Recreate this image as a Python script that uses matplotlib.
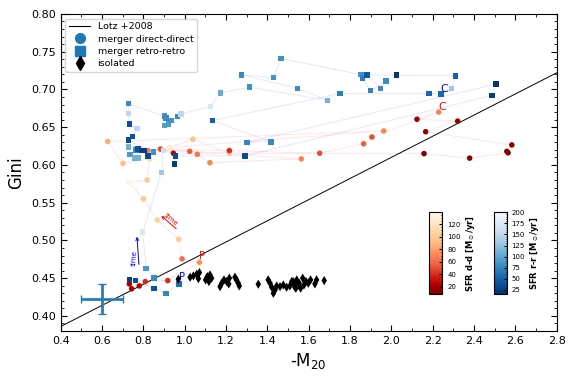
import numpy as np
import matplotlib
matplotlib.use("Agg")
import matplotlib.pyplot as plt
from matplotlib.lines import Line2D

# ---------------- data ----------------
# merger direct-direct track (-M20, Gini, SFR), in time order
dd_m20 = [0.743, 0.732, 0.780, 0.809, 0.918, 1.071, 0.987, 0.971, 0.867, 0.800,
          0.729, 0.818, 0.829, 0.701, 0.627, 1.963, 0.925, 1.040, 1.216, 0.821,
          1.024, 1.061, 1.122, 1.564, 0.882, 1.216, 1.653, 1.866, 1.906, 2.229,
          2.124, 2.321, 2.166, 2.583, 2.559, 2.565, 2.379, 2.158, 0.945]
dd_gini = [0.436, 0.4424, 0.4397, 0.4455, 0.4468, 0.471, 0.4755, 0.5016, 0.527, 0.555,
           0.577, 0.580, 0.608, 0.602, 0.631, 0.645, 0.623, 0.634, 0.6155, 0.619,
           0.618, 0.614, 0.603, 0.608, 0.621, 0.619, 0.6155, 0.628, 0.637, 0.670,
           0.6605, 0.658, 0.644, 0.6265, 0.618, 0.616, 0.609, 0.615, 0.6155]
dd_sfr = [20, 20, 25, 40, 40, 75, 60, 100, 105, 100,
          135, 100, 115, 90, 85, 70, 125, 95, 95, 65,
          55, 65, 70, 70, 50, 40, 50, 55, 50, 70,
          20, 15, 15, 12, 12, 12, 12, 12, 25]

# merger retro-retro track (-M20, Gini, SFR), in time order
rr_m20 = [0.732, 0.761, 0.851, 0.909, 0.972, 0.851, 0.813, 0.797, 0.887, 0.896,
          0.727, 0.735, 0.759, 0.775, 0.764, 0.773, 0.792, 0.803, 0.822, 0.848,
          0.727, 0.748, 0.769, 0.732, 0.727, 0.727, 0.901, 0.909, 0.903, 0.921,
          0.935, 0.964, 0.981, 1.124, 1.174, 1.312, 1.690, 1.547, 1.276, 1.429,
          1.466, 1.853, 1.861, 1.900, 1.974, 1.946, 1.882, 2.024, 2.311, 2.291,
          2.241, 2.182, 1.751, 1.133, 1.417, 1.301, 2.506, 2.487, 1.292, 0.956,
          0.951]
rr_gini = [0.4486, 0.447, 0.4367, 0.430, 0.4424, 0.450, 0.463, 0.511, 0.590, 0.6195,
           0.624, 0.614, 0.609, 0.609, 0.620, 0.621, 0.619, 0.619, 0.612, 0.617,
           0.633, 0.6375, 0.648, 0.654, 0.668, 0.681, 0.665, 0.662, 0.652, 0.654,
           0.659, 0.664, 0.6675, 0.677, 0.6954, 0.703, 0.6857, 0.7016, 0.719, 0.716,
           0.741, 0.7196, 0.715, 0.6984, 0.711, 0.7016, 0.719, 0.719, 0.718, 0.701,
           0.694, 0.6945, 0.6945, 0.6587, 0.6305, 0.630, 0.707, 0.692, 0.612, 0.612,
           0.601]
rr_sfr = [25, 35, 40, 75, 60, 80, 90, 170, 130, 160,
          110, 90, 110, 110, 80, 40, 25, 25, 35, 85,
          35, 40, 150, 40, 150, 80, 85, 80, 95, 90,
          85, 80, 150, 170, 105, 85, 110, 80, 80, 85,
          85, 85, 70, 75, 80, 80, 45, 20, 50, 130,
          55, 55, 70, 50, 80, 75, 20, 25, 35, 35,
          25]

# isolated galaxy (-M20, Gini)
iso_m20 = [0.969, 1.026, 1.042, 1.058, 1.071, 1.066, 1.101, 1.109, 1.122, 1.117,
           1.130, 1.171, 1.179, 1.190, 1.203, 1.216, 1.213, 1.243, 1.251, 1.259,
           1.264, 1.356, 1.404, 1.413, 1.421, 1.429, 1.437, 1.445, 1.461, 1.477,
           1.493, 1.509, 1.518, 1.529, 1.538, 1.550, 1.525, 1.533, 1.542, 1.554,
           1.561, 1.571, 1.577, 1.587, 1.598, 1.609, 1.630, 1.638, 1.675]
iso_gini = [0.4486, 0.4512, 0.4530, 0.4552, 0.4574, 0.4494, 0.4477, 0.4520, 0.4543, 0.4455,
            0.4500, 0.4388, 0.4433, 0.4477, 0.4455, 0.4500, 0.4424, 0.4513, 0.4477, 0.4433,
            0.4397, 0.4420, 0.4477, 0.4433, 0.4380, 0.4300, 0.4344, 0.4397, 0.4388, 0.4410,
            0.4380, 0.4397, 0.4455, 0.4424, 0.4367, 0.4410, 0.4455, 0.4380, 0.4477, 0.4433,
            0.4367, 0.4500, 0.4410, 0.4455, 0.4433, 0.4477, 0.4424, 0.4477, 0.4468]

# Lotz et al. 2008 merger line: G = -0.14 M20 + 0.33
lotz_x = [0.4, 2.8]
lotz_slope, lotz_icpt = 0.14, 0.33

# typical error bar
err_x, err_y, err_dx, err_dy = 0.6, 0.422, 0.1, 0.02

# ---------------- plot ----------------
fig = plt.figure(figsize=(5.68, 3.77), dpi=100)
ax = fig.add_axes([0.107, 0.122, 0.873, 0.841])

lx = np.array(lotz_x)
ax.plot(lx, lotz_slope * lx + lotz_icpt, color='k', lw=0.7, zorder=2)

ax.plot(dd_m20, dd_gini, '-', color='r', alpha=0.1, lw=0.7, zorder=1)
ax.plot(rr_m20, rr_gini, '-', color='b', alpha=0.1, lw=0.7, zorder=1)

sc_dd = ax.scatter(dd_m20, dd_gini, c=dd_sfr, cmap='OrRd_r', vmin=8, vmax=139,
                   marker='o', s=16, edgecolors='none', zorder=3)
sc_rr = ax.scatter(rr_m20, rr_gini, c=rr_sfr, cmap='Blues_r', vmin=15, vmax=200,
                   marker='s', s=15, edgecolors='none', zorder=3)
ax.scatter(iso_m20, iso_gini, c='k', marker='d', s=22, edgecolors='none', zorder=3)

ax.errorbar([err_x], [err_y], xerr=[err_dx], yerr=[err_dy], color='#1f77b4',
            elinewidth=2, capsize=3, capthick=1, ecolor='#2c7bb6', zorder=4)

# labels P / C
ax.text(1.084, 0.4795, 'P', color='r', fontsize=7, ha='center', va='center')
ax.text(0.985, 0.4513, 'P', color='b', fontsize=7, ha='center', va='center')
ax.text(2.256, 0.701, 'C', color='b', fontsize=8, ha='center', va='center')
ax.text(2.246, 0.677, 'C', color='r', fontsize=8, ha='center', va='center')

# time arrows
ax.annotate('', xy=(0.876, 0.535), xytext=(0.969, 0.513),
            arrowprops=dict(arrowstyle='->', color='r', lw=0.7, mutation_scale=5))
ax.text(0.932, 0.528, 'time', color='r', fontsize=5, rotation=-41,
        ha='center', va='center')
ax.annotate('', xy=(0.768, 0.5086), xytext=(0.779, 0.4645),
            arrowprops=dict(arrowstyle='->', color='b', lw=0.7, mutation_scale=5))
ax.text(0.756, 0.4764, 'time', color='b', fontsize=5, rotation=86,
        ha='center', va='center')

ax.set_xlim(0.4, 2.8)
ax.set_ylim(0.38, 0.80)
ax.set_xticks(np.arange(0.4, 2.81, 0.2))
ax.set_xticks(np.arange(0.4, 2.81, 0.1), minor=True)
ax.set_yticks(np.arange(0.40, 0.801, 0.05))
ax.set_yticks(np.arange(0.38, 0.801, 0.01), minor=True)
ax.tick_params(which='both', direction='in', top=True, right=True, labelsize=8)
ax.tick_params(which='major', length=4)
ax.tick_params(which='minor', length=2)
ax.set_xlabel('-M$_{20}$', fontsize=12)
ax.set_ylabel('Gini', fontsize=12)

handles = [Line2D([], [], color='k', lw=0.8),
           Line2D([], [], color='#1f77b4', marker='o', ls='none', ms=7),
           Line2D([], [], color='#1f77b4', marker='s', ls='none', ms=7),
           Line2D([], [], color='k', marker='d', ls='none', ms=7)]
ax.legend(handles, ['Lotz +2008', 'merger direct-direct', 'merger retro-retro', 'isolated'],
          loc='upper left', fontsize=6.8, handlelength=2.2, borderpad=0.4,
          labelspacing=0.35)

# colorbars
cax1 = fig.add_axes([0.756, 0.219, 0.0229, 0.218])
cb1 = fig.colorbar(sc_dd, cax=cax1)
cb1.set_ticks([20, 40, 60, 80, 100, 120])
cb1.ax.tick_params(labelsize=5, direction='in', length=2)
cb1.ax.minorticks_on()
cb1.ax.tick_params(which='minor', direction='in', length=1)
cb1.set_label(r'SFR d-d [M$_\odot$/yr]', fontsize=6, fontweight='bold', labelpad=2)

cax2 = fig.add_axes([0.869, 0.219, 0.0229, 0.218])
cb2 = fig.colorbar(sc_rr, cax=cax2)
cb2.set_ticks([25, 50, 75, 100, 125, 150, 175, 200])
cb2.ax.tick_params(labelsize=5, direction='in', length=2)
cb2.ax.minorticks_on()
cb2.ax.tick_params(which='minor', direction='in', length=1)
cb2.set_label(r'SFR r-r [M$_\odot$/yr]', fontsize=6, fontweight='bold', labelpad=2)

fig.savefig('out.png', dpi=100)
